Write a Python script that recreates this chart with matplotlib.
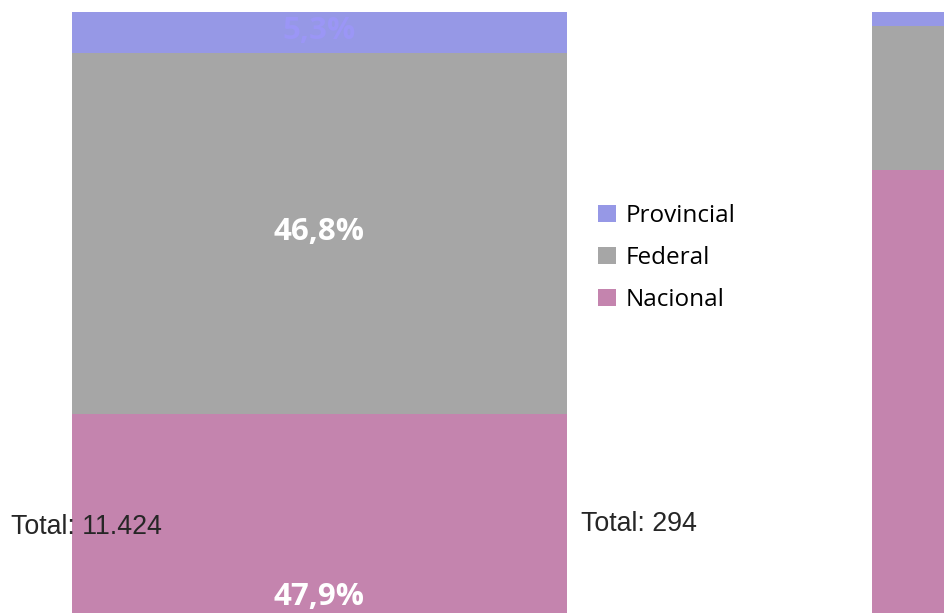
import numpy as np
import matplotlib
matplotlib.use("Agg")
import matplotlib.pyplot as plt

# data (second bar is mostly outside the frame)
groups = ["A", "B"]
series = ["Nacional", "Federal", "Provincial"]
nacional = [47.9, 79.5]
federal = [46.8, 18.7]
provincial = [5.3, 1.8]
totals = ["11.424", "294"]

colors = {"Nacional": "#C484AE", "Federal": "#A6A6A6", "Provincial": "#9698E6"}
label_colors = {"Nacional": "white", "Federal": "white", "Provincial": "#9B96F6"}

fig = plt.figure(figsize=(9.44, 6.13), dpi=100)
ax = fig.add_axes([0, 0, 1, 1])
xlim = (-0.399, 0.781)

x = np.arange(len(groups))
width = 0.619
bottom = np.zeros(len(groups))
for name, vals in zip(series, [nacional, federal, provincial]):
    vals = np.array(vals)
    ax.bar(x, vals, width, bottom=bottom, color=colors[name], label=name)
    for xi, b, v in zip(x, bottom, vals):
        if xi > xlim[1]:
            continue  # bar label falls outside the visible frame
        ax.text(xi, b + v / 2 + 0.2, "{:.1f}%".format(v).replace(".", ","),
                ha="center", va="center", fontsize=22.5, fontweight="bold",
                family="Open Sans", color=label_colors[name])
    bottom += vals

# total labels
total_x = [-0.385, 0.3275]
total_y = [33.2, 33.6]
for tx, ty, t in zip(total_x, total_y, totals):
    ax.text(tx, ty, "Total: " + t, ha="left", va="center", fontsize=19.3,
            family="Liberation Sans", color="#262626")

ax.set_xlim(*xlim)
ax.set_ylim(22.1, 101.56)
ax.axis("off")

handles, labels = ax.get_legend_handles_labels()
leg = ax.legend(handles[::-1], labels[::-1], loc="upper left",
                bbox_to_anchor=(0.634, 0.667), frameon=False,
                prop={"family": "Open Sans", "size": 17.5},
                handlelength=0.7, handleheight=0.7, handletextpad=0.4,
                labelspacing=0.74, borderaxespad=0, borderpad=0)

fig.savefig("out.png", dpi=100)
